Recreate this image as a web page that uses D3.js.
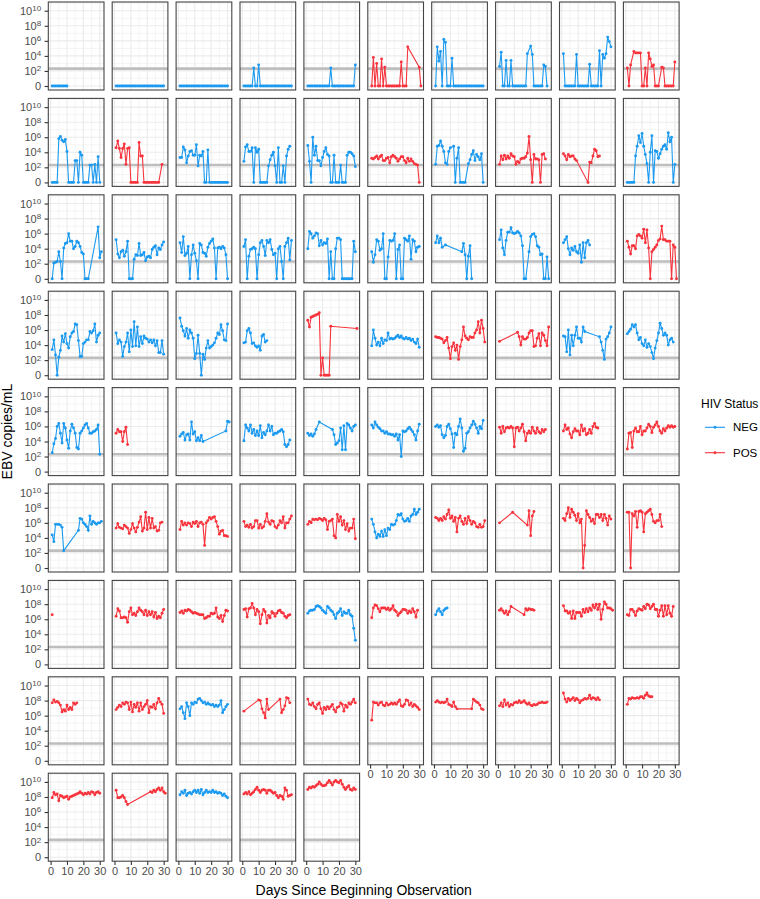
<!DOCTYPE html>
<html>
<head>
<meta charset="utf-8">
<script src="https://cdn.jsdelivr.net/npm/d3@7"></script>
<style>
  body { margin: 0; background: #fff; }
  svg { display: block; font-family: "Liberation Sans", Arial, sans-serif; }
</style>
</head>
<body>
<div id="chart"></div>
<script>
// HIV status of each participant, panel order (left to right, top to bottom)
const hivStatus = [
  "NEG","NEG","NEG","NEG","NEG","POS","NEG","NEG","NEG","POS",
  "NEG","POS","NEG","NEG","NEG","POS","NEG","POS","POS","NEG",
  "NEG","NEG","NEG","NEG","NEG","NEG","NEG","NEG","NEG","POS",
  "NEG","NEG","NEG","NEG","POS","NEG","POS","POS","NEG","NEG",
  "NEG","POS","NEG","NEG","NEG","NEG","NEG","POS","POS","POS",
  "NEG","POS","POS","POS","POS","NEG","POS","POS","POS","POS",
  "POS","POS","POS","POS","NEG","POS","NEG","POS","POS","POS",
  "POS","POS","NEG","POS","POS","POS","POS","POS","POS","POS",
  "POS","POS","NEG","POS","POS"
];
const statusLevels = ["NEG", "POS"];
const yTickExponents = [0, 2, 4, 6, 8, 10];
const yMinorExponents = [1, 3, 5, 7, 9, 11];
const xTickDays = [0, 10, 20, 30];
const xMinorDays = [5, 15, 25];
const detectionLimit = 200; // copies/mL

// [day, log10 EBV copies/mL] per participant; 0 = not detected (plotted at 0 copies)
const obs = [
  // row 1
  [[1,0],[2,0],[3,0],[4,0],[5,0],[6,0],[7,0],[8,0],[9,0],[10,0]],
  [[1,0],[2,0],[3,0],[4,0],[5,0],[6,0],[7,0],[8,0],[9,0],[10,0],[11,0],[12,0],[13,0],[14,0],[15,0],[16,0],[17,0],[18,0],[19,0],[20,0],[21,0],[22,0],[23,0],[24,0],[25,0],[26,0],[27,0],[28,0],[29,0],[30,0]],
  [[1,0],[2,0],[3,0],[4,0],[5,0],[6,0],[7,0],[8,0],[9,0],[10,0],[11,0],[12,0],[13,0],[14,0],[15,0],[16,0],[17,0],[18,0],[19,0],[20,0],[21,0],[22,0],[23,0],[24,0],[25,0],[26,0],[27,0],[28,0],[29,0],[30,0]],
  [[1,0],[2,0],[3,0],[4,0],[5,0],[6,0],[7,2.4],[8,0],[9,0],[10,2.8],[11,0],[12,0],[13,0],[14,0],[15,0],[16,0],[17,0],[18,0],[19,0],[20,0],[21,0],[22,0],[23,0],[24,0],[25,0],[26,0],[27,0],[28,0],[29,0],[30,0]],
  [[1,0],[2,0],[3,0],[4,0],[5,0],[6,0],[7,0],[8,0],[9,0],[10,0],[11,0],[12,0],[13,0],[14,0],[15,2.4],[16,0],[17,0],[18,0],[19,0],[20,0],[21,0],[22,0],[23,0],[24,0],[25,0],[26,0],[27,0],[28,0],[29,0],[30,2.8]],
  [[1,0],[2,3.8],[3,0],[4,3.0],[5,0],[6,0],[7,3.6],[8,0],[9,2.5],[10,0],[11,0],[12,0],[13,0],[14,0],[15,0],[16,0],[17,0],[18,0],[19,3.2],[20,0],[21,0],[22,0],[23,5.2],[30,2.5],[31,0]],
  [[1,0],[2,5.2],[3,3.3],[4,4.6],[5,0],[6,6.2],[7,5.8],[8,0],[9,0],[10,0],[11,3.7],[12,0],[13,0],[14,0],[15,0],[16,0],[17,0],[18,0],[19,0],[20,0],[21,0],[22,0],[23,0],[24,0],[25,0],[26,0],[27,0],[28,0],[29,0],[30,0]],
  [[1,2.6],[2,4.5],[3,0],[4,0],[5,3.4],[6,0],[7,0],[8,3.4],[9,0],[10,0],[11,0],[12,0],[13,0],[14,0],[15,0],[16,0],[17,0],[18,4.3],[20,5.3],[21,4.2],[22,0],[23,0],[24,0],[25,0],[26,0],[27,0],[28,2.8],[29,2.6],[30,0]],
  [[1,4.3],[2,0],[3,0],[4,0],[5,0],[6,0],[7,0],[8,0],[9,4.2],[10,0],[11,0],[12,0],[13,0],[14,0],[15,0],[16,0],[17,2.9],[18,0],[19,0],[20,0],[21,0],[22,0],[23,4.7],[24,0],[25,4.2],[26,3.7],[27,4.3],[28,6.5],[29,5.9],[30,5.2]],
  [[1,2.4],[2,0],[3,2.8],[5,4.6],[6,4.4],[7,4.4],[8,4.4],[9,4.4],[10,0],[11,0],[12,2.4],[13,0],[14,4.4],[15,3.6],[16,2.6],[17,2.8],[18,0],[19,0],[20,0],[22,2.5],[23,2.4],[24,0],[25,0],[26,0],[27,0],[28,0],[29,0],[30,3.2]],
  // row 2
  [[1,0],[2,0],[3,0],[4,0],[5,5.8],[6,6.1],[7,5.6],[8,5.4],[9,5.7],[10,4.1],[11,0],[12,0],[13,0],[14,0],[15,2.9],[16,2.9],[17,0],[18,4.0],[19,3.6],[20,0],[21,0],[22,0],[23,0],[24,2.3],[25,2.3],[26,0],[27,2.4],[28,0],[29,3.4],[30,0]],
  [[1,4.6],[2,5.5],[3,4.5],[4,3.3],[5,4.5],[6,5.1],[7,2.4],[8,4.5],[9,4.6],[10,0],[11,0],[12,0],[13,0],[14,0],[15,5.3],[16,3.5],[17,3.5],[18,0],[19,0],[20,0],[21,0],[22,0],[23,0],[24,0],[25,0],[26,0],[27,0],[29,2.4]],
  [[1,3.3],[2,3.3],[3,4.7],[4,4.3],[5,2.6],[6,3.5],[7,4.1],[8,4.2],[9,3.6],[10,3.6],[11,5.0],[12,2.2],[13,3.6],[14,3.5],[15,4.1],[16,0],[17,0],[18,4.3],[19,0],[20,0],[21,0],[22,0],[23,0],[24,0],[25,0],[26,0],[27,0],[28,0],[29,0],[30,0]],
  [[1,2.8],[2,4.7],[3,5.0],[4,4.1],[5,4.1],[6,4.6],[7,0],[8,4.6],[9,4.0],[10,4.4],[11,0],[12,0],[13,0],[14,0],[15,0],[16,2.2],[17,3.0],[18,3.6],[19,4.0],[20,2.2],[21,0],[22,4.6],[23,0],[24,0],[25,2.2],[26,0],[27,3.5],[28,4.4],[29,4.8]],
  [[1,4.9],[2,2.8],[3,0],[4,6.0],[5,3.6],[6,4.8],[7,2.9],[8,2.9],[9,2.2],[10,3.3],[11,4.1],[12,4.6],[13,3.7],[14,3.5],[15,0],[16,0],[17,3.6],[18,0],[19,0],[20,0],[21,2.3],[22,0],[23,0],[24,0],[25,3.6],[26,4.0],[27,4.0],[28,3.8],[29,3.5],[30,2.1]],
  [[1,3.2],[2,3.1],[3,3.3],[4,3.5],[5,3.1],[6,3.4],[7,3.6],[8,2.9],[9,2.9],[10,3.2],[11,3.3],[12,2.6],[13,3.4],[14,3.6],[15,3.4],[16,3.2],[17,2.8],[18,3.1],[19,3.4],[20,3.4],[21,2.9],[22,2.6],[23,3.2],[24,2.8],[25,3.1],[26,2.8],[27,2.5],[28,2.4],[29,2.3],[30,0]],
  [[1,2.4],[2,4.8],[3,4.9],[4,5.5],[5,4.8],[6,4.1],[7,2.6],[8,2.4],[9,4.1],[10,4.6],[12,4.8],[13,0],[14,3.2],[15,4.6],[16,0],[17,0],[18,0],[19,0],[21,2.5],[22,3.0],[23,3.7],[24,4.2],[25,2.9],[26,3.7],[27,3.4],[28,3.0],[29,3.8],[30,0]],
  [[1,2.4],[2,3.5],[3,3.0],[4,3.6],[5,3.1],[6,3.5],[7,3.2],[8,3.8],[9,3.5],[10,3.4],[11,2.4],[12,2.8],[13,2.6],[14,3.1],[15,3.2],[16,3.2],[17,3.4],[18,3.9],[19,6.1],[20,3.0],[21,0],[22,3.7],[23,3.1],[24,3.1],[25,3.0],[26,0],[27,3.7],[28,3.8],[29,3.1]],
  [[1,3.8],[2,3.5],[3,3.0],[4,3.7],[5,3.4],[6,3.5],[7,3.5],[8,3.1],[9,2.9],[16,0],[17,2.7],[18,2.6],[19,3.5],[20,4.4],[21,4.2],[22,3.4],[23,3.5]],
  [[1,0],[2,0],[3,0],[4,0],[5,0],[6,3.5],[7,4.8],[8,6.2],[9,5.3],[10,6.5],[11,4.8],[12,3.7],[13,2.5],[14,0],[15,4.0],[16,6.2],[17,0],[18,4.2],[19,4.1],[20,3.2],[21,3.8],[22,4.4],[23,4.8],[24,5.0],[25,4.4],[26,6.6],[27,5.4],[28,6.0],[29,0],[30,2.4]],
  // row 3
  [[1,0],[2,2.1],[3,2.2],[4,2.3],[5,3.6],[6,2.3],[7,0],[8,4.1],[9,4.7],[10,4.8],[11,6.0],[12,5.0],[13,5.0],[14,4.0],[15,4.3],[16,5.0],[17,4.8],[18,4.3],[19,3.5],[20,3.3],[21,0],[22,0],[23,0],[29,6.9],[30,2.8],[31,3.6]],
  [[1,5.2],[2,3.3],[3,2.8],[4,3.6],[5,3.8],[6,3.0],[7,3.6],[8,5.0],[9,0],[10,0],[11,0],[12,2.6],[13,3.2],[14,3.1],[15,4.7],[16,3.1],[17,3.2],[18,3.5],[19,2.4],[20,2.9],[21,3.0],[22,2.8],[23,3.9],[24,4.2],[25,4.4],[26,3.2],[27,4.1],[28,3.9],[29,4.5],[30,4.9]],
  [[1,4.8],[2,3.5],[3,5.6],[4,3.1],[5,3.4],[6,4.3],[7,0],[8,3.2],[9,4.5],[10,3.4],[11,2.4],[12,0],[13,4.7],[14,4.5],[15,3.5],[16,3.4],[17,3.0],[18,4.2],[19,4.7],[20,5.0],[21,5.3],[22,4.1],[23,0],[24,4.1],[25,4.2],[26,4.0],[27,4.3],[28,4.1],[29,3.2],[30,0]],
  [[1,4.3],[2,5.2],[3,0],[4,3.0],[5,3.9],[6,4.0],[7,4.2],[8,4.0],[9,0],[10,3.2],[11,4.8],[12,5.1],[13,4.3],[14,3.1],[15,5.1],[16,4.8],[17,5.2],[18,3.9],[19,3.2],[20,3.4],[21,0],[22,4.0],[23,4.3],[24,2.3],[25,0],[26,4.3],[27,4.8],[28,5.4],[29,2.5],[30,5.1]],
  [[1,4.0],[2,6.3],[3,6.0],[4,5.4],[5,5.7],[6,6.1],[7,6.0],[8,4.4],[9,5.1],[10,4.5],[11,4.8],[12,4.7],[13,5.3],[14,0],[15,3.6],[16,0],[17,0],[18,4.0],[19,5.4],[20,5.4],[21,5.2],[22,0],[23,0],[24,0],[25,0],[26,0],[27,0],[28,0],[29,5.0],[30,3.6]],
  [[1,3.6],[2,2.2],[3,3.2],[4,5.2],[5,5.0],[6,3.8],[7,4.0],[8,6.0],[9,0],[10,0],[11,2.9],[12,5.1],[13,5.0],[14,5.1],[15,6.0],[16,0],[17,3.9],[18,4.5],[19,0],[20,0],[21,5.4],[22,5.2],[23,5.0],[24,5.7],[25,2.6],[26,5.2],[27,5.0],[28,3.6],[29,4.2],[30,4.3]],
  [[1,4.8],[2,5.7],[3,4.8],[4,5.4],[5,4.2],[7,4.5],[17,3.6],[18,4.7],[19,3.2],[20,0],[21,3.0],[22,4.4],[23,0]],
  [[1,5.2],[2,6.5],[3,4.1],[4,3.2],[5,5.1],[6,6.2],[7,6.2],[8,6.8],[9,6.1],[10,6.0],[11,6.1],[12,6.3],[13,6.1],[14,5.7],[15,4.4],[16,0],[17,0],[19,3.6],[20,5.6],[21,5.9],[22,6.0],[23,5.6],[24,4.4],[25,4.2],[26,3.2],[27,3.3],[28,0],[29,0],[30,2.9],[31,0]],
  [[1,4.8],[2,5.2],[3,5.6],[4,4.0],[5,3.2],[6,4.1],[7,3.8],[8,4.3],[9,3.6],[10,3.4],[11,4.5],[12,2.2],[13,4.8],[14,2.8],[15,4.8],[16,5.1],[17,4.5]],
  [[1,5.0],[2,4.2],[3,3.3],[4,4.4],[5,4.4],[6,4.0],[7,5.7],[8,5.9],[9,5.7],[10,5.4],[11,6.6],[12,4.8],[13,6.5],[14,4.1],[15,0],[16,3.6],[17,3.9],[18,4.2],[19,4.5],[20,5.1],[21,5.3],[22,7.0],[23,5.2],[24,5.2],[25,5.0],[26,5.0],[27,5.0],[28,0],[29,4.5],[30,4.2],[31,0]],
  // row 4
  [[1,3.4],[2,4.7],[3,2.7],[4,0],[5,2.4],[6,3.3],[7,5.2],[8,4.4],[9,5.5],[10,4.2],[11,3.6],[12,5.1],[13,5.6],[14,5.8],[15,6.8],[16,6.7],[17,4.6],[18,2.5],[19,2.5],[20,4.2],[21,4.4],[22,4.7],[23,4.7],[24,5.8],[25,5.6],[26,5.9],[27,6.8],[28,4.4],[29,5.3],[30,5.6]],
  [[1,5.6],[2,4.2],[3,4.7],[4,4.4],[5,2.5],[6,3.8],[7,4.4],[8,5.6],[9,3.1],[10,6.0],[11,3.8],[12,7.1],[13,3.9],[14,6.4],[15,3.8],[16,5.1],[17,4.2],[18,5.2],[19,4.9],[20,4.8],[21,4.4],[22,4.7],[23,4.3],[24,4.7],[25,3.9],[26,4.6],[27,3.0],[28,3.0],[29,4.6],[30,2.8]],
  [[1,7.6],[2,6.5],[3,5.9],[4,5.2],[5,6.2],[6,4.9],[7,6.0],[8,5.6],[9,4.9],[10,2.2],[11,2.9],[12,5.3],[13,2.9],[14,0],[15,2.8],[16,2.1],[17,3.6],[18,4.6],[19,3.6],[20,3.8],[21,4.0],[22,4.3],[23,4.9],[24,5.6],[25,5.4],[26,6.7],[27,5.9],[28,4.7],[29,4.6],[30,6.8]],
  [[1,4.3],[2,4.4],[3,5.9],[4,6.2],[5,5.6],[6,4.2],[7,4.3],[8,3.9],[9,3.7],[10,3.9],[11,3.3],[12,5.2],[13,5.4],[14,4.4],[15,4.6]],
  [[1,7.3],[2,6.4],[3,7.7],[4,7.8],[5,7.9],[6,8.0],[7,8.1],[8,8.3],[9,0],[10,2.3],[11,0],[12,0],[13,0],[14,0],[15,6.5],[31,6.2]],
  [[1,3.9],[2,6.0],[3,4.9],[4,4.0],[5,4.4],[6,3.9],[7,4.9],[8,4.2],[9,4.7],[10,4.6],[11,5.6],[12,4.8],[13,4.9],[14,4.8],[15,4.9],[16,5.1],[17,5.3],[18,5.0],[19,5.2],[20,4.9],[21,4.8],[22,5.0],[23,4.8],[24,4.9],[25,4.6],[26,4.8],[27,4.4],[28,4.2],[29,4.8],[30,3.7]],
  [[1,5.1],[2,5.0],[3,5.0],[4,4.9],[5,4.8],[6,4.3],[7,4.6],[8,5.0],[9,3.6],[10,2.2],[11,3.8],[12,4.3],[13,3.3],[14,4.0],[15,2.1],[16,3.8],[17,4.7],[18,6.4],[19,5.2],[20,4.9],[21,4.7],[22,5.1],[23,5.0],[24,5.0],[25,5.6],[26,6.0],[27,7.1],[28,5.6],[29,7.3],[30,6.2],[31,4.4]],
  [[1,4.5],[12,5.7],[13,5.1],[14,4.0],[15,5.1],[16,4.8],[17,4.8],[18,5.0],[19,5.6],[20,5.9],[21,5.9],[22,3.8],[23,3.9],[24,4.9],[25,5.5],[26,3.9],[27,5.6],[28,5.3],[29,4.6],[30,3.9],[31,6.4]],
  [[1,5.2],[2,5.1],[3,3.1],[4,6.0],[5,2.7],[6,5.3],[7,3.9],[8,5.3],[9,6.4],[10,4.9],[11,4.9],[12,4.4],[13,6.4],[14,5.8],[23,5.1],[24,4.4],[25,3.3],[26,2.1],[27,4.8],[28,5.1],[29,5.6],[30,6.4]],
  [[1,5.5],[2,5.8],[3,6.1],[4,6.7],[5,6.4],[6,6.7],[7,5.6],[8,4.7],[9,5.0],[10,4.2],[11,3.9],[12,4.7],[13,3.7],[14,4.2],[15,3.8],[16,3.0],[17,2.2],[18,3.6],[19,4.6],[20,5.6],[21,6.9],[22,6.2],[23,5.3],[24,5.6],[25,5.3],[26,4.0],[27,4.7],[28,4.9],[29,4.4]],
  // row 5
  [[1,2.5],[2,3.7],[3,4.4],[4,6.0],[5,6.4],[6,5.1],[7,3.8],[8,6.4],[9,5.8],[10,4.2],[11,3.1],[12,5.4],[13,6.3],[14,5.8],[15,5.1],[16,3.2],[17,3.0],[18,5.1],[19,5.4],[20,5.8],[21,6.2],[22,6.4],[23,5.8],[24,5.1],[25,5.1],[26,5.3],[27,5.4],[28,5.6],[29,6.2],[30,2.3]],
  [[1,5.1],[2,5.6],[3,5.3],[4,5.3],[5,4.0],[6,5.3],[7,5.9],[8,3.6]],
  [[1,4.7],[2,5.0],[3,5.2],[4,4.2],[5,4.9],[6,5.0],[7,4.2],[8,6.6],[9,5.0],[10,5.3],[11,4.1],[12,4.5],[13,4.1],[14,4.8],[15,4.0],[29,5.4],[30,6.7],[31,6.6]],
  [[1,4.1],[2,6.2],[3,5.8],[4,5.4],[5,6.2],[6,5.1],[7,5.6],[8,4.8],[9,5.4],[10,4.8],[11,6.1],[12,4.5],[13,5.2],[14,4.9],[15,5.4],[16,6.2],[17,5.4],[18,6.0],[19,4.9],[20,5.1],[21,5.1],[22,5.3],[23,5.4],[24,5.6],[25,5.3],[26,3.6],[27,3.3],[28,3.6],[29,4.2]],
  [[1,5.1],[2,4.8],[3,5.0],[4,4.7],[5,5.0],[6,5.6],[8,6.6],[16,5.6],[17,4.9],[18,3.6],[19,3.8],[20,4.1],[21,5.8],[22,2.9],[23,6.1],[24,2.9],[25,6.4],[26,6.2],[27,5.8],[28,5.4],[29,6.0],[30,6.2]],
  [[1,6.2],[2,5.8],[3,6.6],[4,6.2],[5,5.9],[6,5.7],[7,5.4],[8,5.4],[9,5.1],[10,5.3],[11,5.0],[12,5.0],[13,4.9],[14,4.9],[15,4.7],[16,5.0],[17,4.2],[18,4.9],[19,2.0],[20,5.4],[21,5.3],[22,5.4],[23,5.7],[24,5.9],[25,5.6],[26,5.3],[27,4.9],[28,4.2],[29,5.4],[30,6.3]],
  [[1,6.0],[2,6.2],[3,5.9],[4,6.1],[5,4.9],[6,4.5],[7,4.8],[8,6.0],[9,6.3],[10,5.7],[11,5.0],[12,3.2],[13,5.1],[14,4.9],[15,6.0],[16,7.0],[17,5.8],[18,2.7],[19,3.1],[20,5.1],[21,5.3],[22,5.8],[23,6.2],[24,6.7],[25,6.3],[26,5.8],[27,5.1],[28,6.0],[29,5.7],[30,6.8]],
  [[1,5.9],[2,5.1],[3,6.0],[4,5.3],[5,5.8],[6,5.9],[7,5.8],[8,6.0],[9,5.8],[10,3.3],[11,5.8],[12,5.9],[13,5.4],[14,5.8],[15,6.3],[16,5.3],[17,4.1],[18,5.1],[19,5.4],[20,5.1],[21,5.9],[22,5.4],[23,5.1],[24,5.8],[25,5.3],[26,5.1],[27,5.6],[28,5.3],[29,5.6]],
  [[1,5.4],[2,6.2],[3,5.6],[4,5.8],[5,5.0],[6,4.5],[7,5.3],[8,5.7],[9,5.4],[10,5.4],[11,4.9],[12,6.2],[13,5.4],[14,5.7],[15,4.9],[16,5.1],[17,5.6],[18,5.1],[19,6.0],[20,6.4],[21,5.9],[22,5.8]],
  [[1,3.0],[2,5.1],[3,5.2],[4,3.2],[5,5.4],[6,5.8],[7,5.3],[8,5.3],[9,6.0],[10,4.9],[11,5.4],[12,5.4],[13,5.8],[14,6.3],[15,6.0],[16,5.2],[17,5.9],[18,6.2],[19,6.6],[20,6.0],[21,5.4],[22,5.1],[23,5.7],[24,5.4],[25,5.8],[26,6.1],[27,5.9],[28,6.1],[29,5.9],[30,6.0]],
  // row 6
  [[1,4.4],[2,3.5],[3,5.8],[4,5.8],[5,5.8],[6,5.7],[7,5.4],[8,2.3],[17,5.0],[18,6.6],[19,6.5],[20,6.0],[21,5.8],[22,5.5],[23,5.0],[24,6.9],[25,5.8],[26,6.2],[27,6.0],[28,5.8],[29,6.0],[30,6.0],[31,6.2]],
  [[1,5.3],[2,5.9],[3,5.4],[4,5.3],[5,5.2],[6,5.7],[7,5.5],[8,5.3],[9,4.6],[10,5.1],[11,5.9],[12,5.3],[13,4.8],[14,5.4],[15,6.1],[16,6.8],[17,4.9],[18,5.3],[19,7.4],[20,5.1],[21,6.7],[22,5.3],[23,6.6],[24,5.3],[25,5.5],[26,4.9],[27,5.0],[28,6.0],[29,6.1]],
  [[1,5.1],[2,6.2],[3,5.7],[4,6.0],[5,5.7],[6,6.0],[7,5.9],[8,5.5],[9,6.1],[10,5.9],[11,6.2],[12,5.5],[13,6.0],[14,6.1],[15,5.8],[16,3.0],[17,6.0],[18,6.3],[19,6.7],[20,6.5],[21,6.7],[22,6.8],[23,6.2],[24,5.5],[25,4.5],[26,4.9],[27,5.0],[28,4.3],[29,4.3],[30,4.2]],
  [[1,6.2],[2,5.5],[3,5.7],[4,5.4],[5,5.8],[6,5.3],[7,5.5],[8,6.3],[9,6.3],[10,5.3],[11,5.8],[12,5.3],[13,5.5],[14,6.2],[15,7.2],[16,6.1],[17,5.8],[18,6.3],[19,6.2],[20,5.5],[21,5.3],[22,5.7],[23,6.3],[24,6.0],[25,6.8],[26,5.3],[27,6.0],[28,6.0],[29,6.5],[30,6.9]],
  [[1,5.8],[2,6.2],[3,6.0],[4,6.5],[5,6.4],[6,6.5],[7,6.4],[8,6.6],[9,6.5],[10,6.3],[11,6.6],[12,6.4],[13,5.1],[14,6.2],[15,6.3],[16,6.5],[17,4.3],[18,4.0],[19,7.1],[20,6.2],[21,6.8],[22,5.7],[23,6.3],[24,5.1],[25,5.9],[26,4.9],[27,5.3],[28,5.3],[29,6.5],[30,3.9]],
  [[1,6.5],[2,5.8],[3,4.8],[4,4.0],[5,4.5],[6,4.2],[7,4.9],[8,4.2],[9,5.1],[10,4.3],[11,5.3],[12,5.1],[13,5.8],[14,5.7],[15,5.8],[16,6.3],[17,7.1],[18,7.0],[19,7.2],[20,6.5],[21,6.2],[22,6.3],[23,6.6],[24,6.2],[25,6.9],[26,7.1],[27,7.8],[28,7.1],[29,7.4],[30,7.8]],
  [[1,6.7],[2,6.6],[3,6.3],[4,6.6],[5,6.3],[6,6.8],[7,6.5],[8,7.1],[9,7.7],[10,6.6],[11,6.9],[12,6.2],[13,6.7],[14,4.8],[15,6.6],[16,6.9],[17,6.2],[18,5.8],[19,6.6],[20,5.9],[21,6.8],[22,6.3],[23,5.8],[24,6.2],[25,6.0],[26,5.5],[27,5.4],[28,5.8],[29,5.4],[30,5.5],[31,6.3]],
  [[1,6.0],[9,7.4],[18,5.7],[19,7.6],[20,4.3],[21,6.9],[22,7.5]],
  [[1,6.6],[2,6.3],[3,7.2],[4,8.0],[5,6.7],[6,7.8],[7,7.4],[8,7.0],[9,6.3],[10,7.2],[11,6.0],[12,6.5],[13,0],[14,3.0],[15,7.6],[16,7.1],[17,6.7],[18,6.2],[19,6.5],[20,5.9],[21,7.1],[22,7.1],[23,6.7],[24,7.1],[25,6.3],[26,7.1],[27,6.6],[28,5.7],[29,6.9],[30,6.5]],
  [[1,7.4],[2,7.4],[3,0],[4,7.2],[5,6.9],[6,7.5],[7,5.4],[8,7.5],[9,7.6],[10,7.4],[11,4.8],[12,7.2],[13,7.4],[14,7.6],[15,7.8],[16,7.1],[17,6.2],[18,6.0],[19,6.3],[20,6.3],[21,7.1],[22,5.5]],
  // row 7
  [[1,6.6]],
  [[1,6.4],[2,7.4],[3,7.1],[4,6.2],[5,6.2],[6,6.3],[7,6.2],[8,5.6],[9,7.0],[10,7.5],[11,6.6],[12,6.8],[13,6.5],[14,7.0],[15,7.5],[16,7.2],[17,7.0],[18,6.6],[19,7.2],[20,6.5],[21,7.0],[22,6.6],[23,7.0],[24,6.3],[25,6.9],[26,6.1],[27,6.4],[28,6.2],[29,6.8],[30,7.3]],
  [[1,6.9],[2,7.1],[3,6.8],[4,7.2],[5,7.1],[6,7.3],[7,7.2],[8,7.0],[9,6.8],[10,6.9],[11,6.8],[12,6.7],[13,6.6],[14,6.6],[15,6.6],[16,6.1],[17,6.2],[18,6.4],[19,6.4],[20,6.8],[21,6.7],[22,6.8],[23,7.5],[24,6.3],[25,6.1],[26,6.5],[27,5.7],[28,6.5],[29,7.2],[30,7.1]],
  [[1,7.3],[2,7.4],[3,6.3],[4,7.4],[5,7.5],[6,8.1],[7,7.5],[8,6.6],[9,7.3],[10,7.0],[11,5.4],[12,6.6],[13,7.3],[14,7.0],[15,5.5],[16,6.5],[17,6.2],[18,7.0],[19,6.8],[20,6.4],[21,6.8],[22,7.1],[23,7.2],[24,6.9],[25,6.8],[26,6.4],[27,6.2],[28,6.5],[29,6.6]],
  [[1,6.8],[2,7.1],[3,7.2],[4,7.2],[5,7.3],[6,7.7],[7,7.8],[8,7.7],[9,7.5],[10,7.2],[11,7.0],[12,6.8],[13,7.7],[14,7.5],[15,7.2],[16,7.0],[17,6.6],[18,6.1],[19,6.8],[20,7.0],[21,7.4],[22,6.5],[23,7.0],[24,6.8],[25,6.8],[26,7.2],[27,6.6],[28,6.4],[29,4.8],[30,3.2]],
  [[1,6.2],[2,7.5],[3,7.9],[4,7.8],[5,7.4],[6,7.0],[7,7.5],[8,7.5],[9,7.5],[10,7.3],[11,7.5],[12,7.2],[13,7.4],[14,7.8],[15,7.2],[16,7.0],[17,6.5],[18,6.8],[19,7.0],[20,7.3],[21,7.3],[22,7.2],[23,6.8],[24,7.1],[25,6.9],[26,7.4],[27,7.0],[28,6.3],[29,7.2]],
  [[1,6.6],[2,7.1],[3,7.4],[4,7.0],[5,6.6],[6,7.2],[7,7.4],[8,7.5]],
  [[1,7.2],[2,7.4],[3,7.1],[4,6.8],[5,7.1],[6,6.6],[7,7.0],[8,7.7],[16,6.6],[17,7.4],[18,7.2],[19,7.4],[20,7.3],[21,7.3],[22,7.2]],
  [[1,7.8],[2,7.1],[3,7.1],[4,6.8],[5,7.0],[6,6.1],[7,7.1],[8,6.1],[9,6.9],[10,6.9],[11,6.9],[12,6.4],[13,7.3],[14,6.9],[15,7.4],[16,7.0],[17,7.5],[18,7.2],[19,7.9],[20,7.5],[21,8.0],[22,7.3],[23,8.0],[24,6.0],[25,7.3],[26,8.3],[27,8.0],[28,7.5],[29,7.5],[30,7.4],[31,7.2]],
  [[1,6.6],[2,6.5],[3,7.3],[4,7.3],[5,7.0],[6,6.5],[7,7.1],[8,7.4],[9,7.3],[10,7.2],[11,7.7],[12,7.4],[13,8.0],[14,7.9],[15,7.4],[16,7.7],[17,8.0],[18,7.3],[19,7.3],[20,6.4],[21,7.2],[22,7.8],[23,6.4],[24,7.8],[25,6.6],[26,7.8],[27,6.8],[28,6.4],[29,7.7]],
  // row 8
  [[1,7.7],[2,8.1],[3,7.8],[4,7.9],[5,7.7],[6,7.4],[7,6.5],[8,6.8],[9,6.6],[10,7.4],[11,6.8],[12,7.1],[13,6.8],[14,7.7],[15,7.5],[16,7.7]],
  [[1,6.8],[2,7.1],[3,7.4],[4,7.2],[5,7.7],[6,7.5],[7,7.8],[8,7.7],[9,6.8],[10,7.8],[11,6.5],[12,7.5],[13,7.1],[14,7.7],[15,6.6],[16,7.7],[17,6.8],[18,7.2],[19,7.5],[20,8.0],[21,6.4],[22,7.2],[23,7.1],[24,7.5],[25,6.9],[26,7.7],[27,8.3],[28,7.8],[29,7.5],[30,6.3]],
  [[1,6.9],[2,7.2],[3,6.4],[4,5.6],[5,7.7],[6,7.2],[7,6.0],[8,7.7],[9,7.5],[10,7.8],[11,7.7],[12,8.2],[13,8.3],[14,8.0],[15,7.7],[16,7.8],[17,7.5],[18,7.7],[19,7.5],[20,7.4],[21,7.5],[22,7.2],[23,7.4],[24,7.2],[25,7.4],[26,8.0],[27,6.4],[28,6.8],[29,7.2],[30,7.5]],
  [[1,6.6],[10,8.1],[11,8.0],[12,6.9],[13,6.4],[14,5.7],[15,8.2],[16,6.8],[23,8.2],[24,6.4],[25,6.8],[26,7.3],[27,8.4],[28,8.3],[29,7.7]],
  [[1,8.2],[2,7.5],[3,7.4],[4,7.7],[5,7.2],[6,6.9],[7,7.5],[8,7.7],[9,6.9],[10,6.3],[11,7.1],[12,6.8],[13,7.2],[14,6.9],[15,7.2],[16,7.5],[17,6.8],[18,6.5],[19,7.1],[20,7.2],[21,7.7],[22,7.5],[23,6.6],[24,7.4],[25,7.1],[26,7.7],[27,7.5],[28,7.8],[29,8.2],[30,7.7]],
  [[1,5.4],[2,7.8],[3,7.7],[4,7.7],[5,7.4],[6,7.7],[7,7.8],[8,7.4],[9,7.3],[10,7.7],[11,7.4],[12,7.5],[13,7.7],[14,7.5],[15,7.7],[16,7.5],[17,7.8],[18,8.1],[19,7.3],[20,7.2],[21,7.5],[22,8.1],[23,8.0],[24,7.4],[25,7.7],[26,7.2],[27,7.5],[28,7.3],[29,7.1],[30,6.8]],
  [[1,7.8],[2,8.0],[3,7.8],[4,7.7],[5,7.8],[6,7.7],[7,7.8],[8,8.2],[9,7.5],[10,7.4],[11,7.2],[12,7.8],[13,7.2],[14,6.9],[23,6.9],[24,8.2],[25,8.0],[26,7.8],[27,7.7],[28,7.4],[29,6.9],[30,6.8]],
  [[1,7.3],[2,7.7],[3,7.2],[4,8.1],[5,7.4],[6,7.7],[7,7.2],[8,7.5],[9,7.4],[10,7.7],[11,7.8],[12,7.7],[13,8.0],[14,7.7],[15,7.8],[16,8.0],[17,7.7],[18,7.5],[19,7.7],[20,7.4],[21,7.3],[22,7.5],[23,7.4],[24,7.5],[25,7.7],[26,7.7],[27,7.8],[28,7.7],[29,7.7],[30,7.8]],
  [[1,9.0],[2,8.2],[3,7.8],[4,8.3],[5,8.0],[6,8.2],[7,8.4],[8,8.0],[9,8.3],[10,8.1],[11,7.7],[12,8.0],[13,8.1],[14,8.3],[15,8.2],[16,8.3],[17,8.7],[18,8.2],[19,8.4],[20,8.3],[21,8.1],[22,8.4],[23,8.1]],
  [[1,7.5],[2,8.3],[3,8.2],[4,8.4],[5,8.3],[6,8.3],[7,8.4],[8,8.3],[9,8.5],[10,8.5],[11,8.3],[12,8.7],[13,9.0],[14,8.6],[15,8.5],[16,8.5]],
  // row 9
  [[1,7.9],[2,8.6],[3,8.3],[4,8.4],[5,7.5],[6,8.2],[7,8.1],[8,7.9],[9,8.0],[10,8.1],[11,7.7],[12,8.0],[13,8.1],[14,8.2],[15,8.3],[16,8.4],[17,8.5],[18,8.7],[19,8.5],[20,8.3],[21,8.5],[22,8.4],[23,8.6],[24,8.4],[25,8.7],[26,8.6],[27,8.3],[28,8.6],[29,8.7],[30,8.5]],
  [[1,8.9],[2,7.9],[3,7.9],[4,8.0],[5,8.2],[6,7.9],[7,7.4],[8,7.0],[22,8.7],[23,8.6],[24,8.9],[25,8.7],[26,9.0],[27,9.2],[28,8.9],[29,9.2],[30,8.7],[31,8.5]],
  [[1,8.3],[2,8.7],[3,8.5],[4,8.9],[5,8.2],[6,8.5],[7,8.6],[8,8.4],[9,8.7],[10,8.9],[11,8.6],[12,8.9],[13,8.5],[14,9.0],[15,8.3],[16,8.6],[17,8.9],[18,8.6],[19,8.7],[20,8.6],[21,8.9],[22,8.6],[23,8.7],[24,8.5],[25,8.6],[26,8.5],[27,8.2],[28,8.4],[29,8.1],[30,7.9]],
  [[1,8.4],[2,8.6],[3,8.4],[4,8.7],[5,8.3],[6,8.5],[7,8.7],[8,9.0],[9,9.3],[10,8.9],[11,8.6],[12,8.9],[13,9.0],[14,8.9],[15,8.5],[16,8.9],[17,8.9],[18,8.7],[19,8.5],[20,8.6],[21,8.2],[22,7.9],[23,8.2],[24,8.1],[25,7.7],[26,9.2],[27,8.9],[28,8.1],[29,8.2],[30,8.3]],
  [[1,9.0],[2,9.3],[3,9.2],[4,9.4],[5,9.3],[6,9.5],[7,9.7],[8,10.0],[9,9.7],[10,9.5],[11,9.5],[12,9.6],[13,9.9],[14,10.2],[15,9.9],[16,9.6],[17,10.0],[18,10.2],[19,10.0],[20,9.9],[21,10.2],[22,9.7],[23,9.3],[24,9.0],[25,9.3],[26,9.5],[27,9.0],[28,8.9],[29,9.2],[30,9.0]]
];

const width = 760, height = 899;
const ncol = 10;
const panel = { left: 48.3, top: 2, w: 55.7, h: 88, stepX: 63.9, stepY: 96.4 };
const colors = { NEG: "#1c9af0", POS: "#f7343d" };
const gridCol = "#ebebeb";
const textCol = "#4d4d4d";

const copies = lg => lg === 0 ? 0 : Math.pow(10, lg);

const x = d3.scaleLinear().domain([-1.4, 32.6]).range([0, panel.w]);
// pseudo-log axis like the original (0 sits two decades below 10^2)
const y = d3.scaleSymlog().constant(1)
  .domain([-(Math.pow(10, 0.53) - 1), Math.pow(10, 11.16) - 1])
  .range([panel.h, 0]);

const svg = d3.select("#chart").append("svg")
  .attr("width", width)
  .attr("height", height);

svg.append("defs").append("clipPath").attr("id", "panel-clip")
  .append("rect").attr("width", panel.w).attr("height", panel.h);

const line = d3.line().x(d => x(d[0])).y(d => y(copies(d[1])));
const nPanels = obs.length;

obs.forEach((pts, i) => {
  const r = Math.floor(i / ncol), c = i % ncol;
  const g = svg.append("g")
    .attr("transform", `translate(${panel.left + c * panel.stepX}, ${panel.top + r * panel.stepY})`);

  g.append("rect").attr("width", panel.w).attr("height", panel.h).attr("fill", "#fff");

  const grid = g.append("g");
  grid.selectAll(".xmin").data(xMinorDays).enter().append("line")
    .attr("x1", d => x(d)).attr("x2", d => x(d)).attr("y1", 0).attr("y2", panel.h)
    .attr("stroke", gridCol).attr("stroke-width", 0.55);
  grid.selectAll(".ymin").data(yMinorExponents).enter().append("line")
    .attr("x1", 0).attr("x2", panel.w).attr("y1", d => y(copies(d))).attr("y2", d => y(copies(d)))
    .attr("stroke", gridCol).attr("stroke-width", 0.55);
  grid.selectAll(".xmaj").data(xTickDays).enter().append("line")
    .attr("x1", d => x(d)).attr("x2", d => x(d)).attr("y1", 0).attr("y2", panel.h)
    .attr("stroke", gridCol).attr("stroke-width", 1.1);
  grid.selectAll(".ymaj").data(yTickExponents).enter().append("line")
    .attr("x1", 0).attr("x2", panel.w).attr("y1", d => y(copies(d))).attr("y2", d => y(copies(d)))
    .attr("stroke", gridCol).attr("stroke-width", 1.1);

  g.append("line")
    .attr("x1", 0).attr("x2", panel.w)
    .attr("y1", y(detectionLimit)).attr("y2", y(detectionLimit))
    .attr("stroke", "#bebebe").attr("stroke-width", 2.6);

  const col = colors[hivStatus[i]];
  const data = g.append("g").attr("clip-path", "url(#panel-clip)");
  data.append("path").datum(pts)
    .attr("d", line).attr("fill", "none")
    .attr("stroke", col).attr("stroke-width", 1.1);
  data.selectAll("circle").data(pts).enter().append("circle")
    .attr("cx", d => x(d[0])).attr("cy", d => y(copies(d[1])))
    .attr("r", 1.45).attr("fill", col);

  g.append("rect").attr("width", panel.w).attr("height", panel.h)
    .attr("fill", "none").attr("stroke", "#444").attr("stroke-width", 1.1);

  if (c === 0) {
    const yAxis = d3.axisLeft(y)
      .tickValues(yTickExponents.map(copies))
      .tickSize(3.7).tickSizeOuter(0).tickPadding(3.5);
    const ya = g.append("g").call(yAxis);
    ya.attr("font-family", null).attr("font-size", 11);
    ya.select(".domain").remove();
    ya.selectAll(".tick line").attr("stroke", "#333").attr("stroke-width", 1.1);
    ya.selectAll(".tick text").attr("fill", textCol).each(function (v) {
      const t = d3.select(this).text("");
      if (v === 0) { t.text("0"); return; }
      t.append("tspan").text("10");
      t.append("tspan").attr("dy", "-0.45em").attr("font-size", 8)
        .text(Math.round(Math.log10(v)));
    });
  }

  if (r === Math.floor((nPanels - 1 - c) / ncol)) {
    const xAxis = d3.axisBottom(x).tickValues(xTickDays)
      .tickSize(3.7).tickSizeOuter(0).tickPadding(2);
    const xa = g.append("g").attr("transform", `translate(0, ${panel.h})`).call(xAxis);
    xa.attr("font-family", null).attr("font-size", 11);
    xa.select(".domain").remove();
    xa.selectAll(".tick line").attr("stroke", "#333").attr("stroke-width", 1.1);
    xa.selectAll(".tick text").attr("fill", textCol);
  }
});

const plotRight = panel.left + 9 * panel.stepX + panel.w;
const plotBottom = panel.top + 8 * panel.stepY + panel.h;

svg.append("text")
  .attr("x", (panel.left + plotRight) / 2).attr("y", 895)
  .attr("text-anchor", "middle").attr("font-size", 14).attr("fill", "#000")
  .text("Days Since Beginning Observation");

svg.append("text")
  .attr("transform", `translate(12, ${(panel.top + plotBottom) / 2}) rotate(-90)`)
  .attr("text-anchor", "middle").attr("font-size", 14).attr("fill", "#000")
  .text("EBV copies/mL");

// legend
const legend = svg.append("g").attr("transform", "translate(701, 0)");
legend.append("text").attr("x", 0).attr("y", 408)
  .attr("font-size", 12).attr("fill", "#000").text("HIV Status");
const key = legend.selectAll(".key").data(statusLevels).enter().append("g")
  .attr("transform", (d, i) => `translate(0, ${427.3 + i * 25.4})`);
key.append("line").attr("x1", 4).attr("x2", 24).attr("y1", 0).attr("y2", 0)
  .attr("stroke", d => colors[d]).attr("stroke-width", 1.1);
key.append("circle").attr("cx", 14).attr("cy", 0).attr("r", 1.45).attr("fill", d => colors[d]);
key.append("text").attr("x", 32).attr("y", 0).attr("dy", "0.35em")
  .attr("font-size", 11.5).attr("fill", "#000").text(d => d);
</script>
</body>
</html>
